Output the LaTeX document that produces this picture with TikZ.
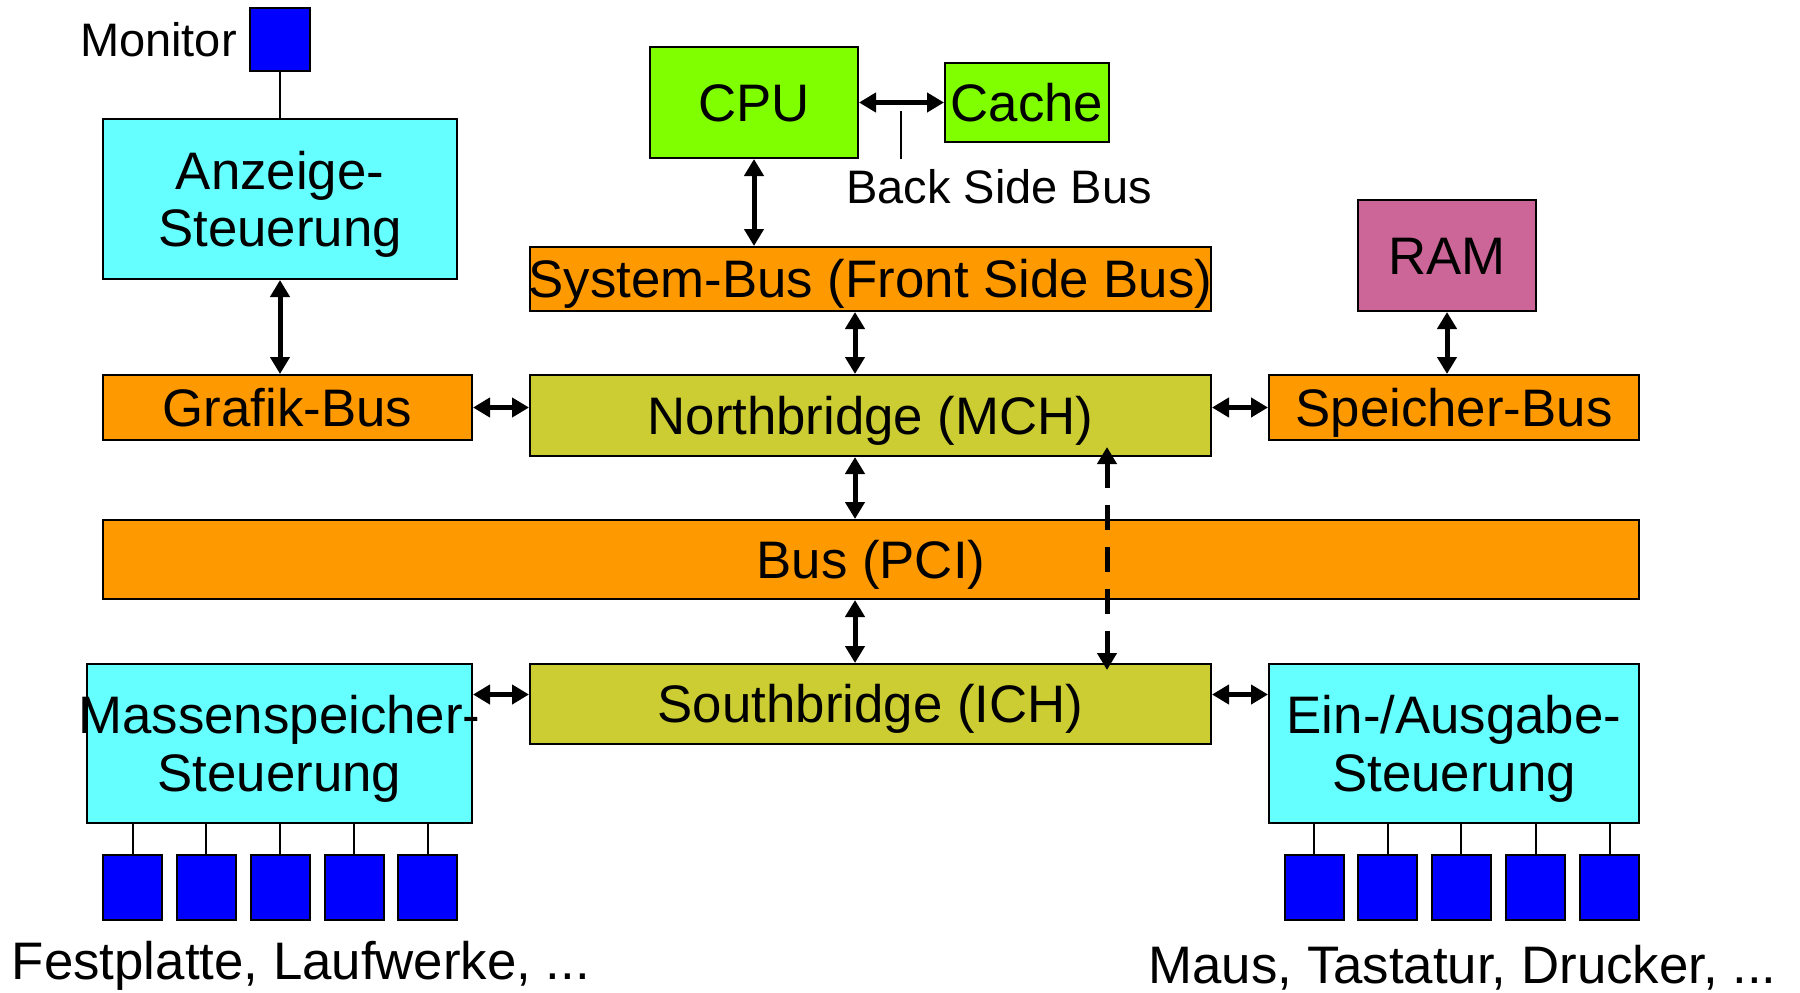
\documentclass[tikz,border=0pt]{standalone}
\usepackage{fontspec}
\setmainfont{Liberation Sans}
\usetikzlibrary{arrows.meta}
\definecolor{cyanbox}{HTML}{66FFFF}
\definecolor{orangebox}{HTML}{FF9900}
\definecolor{greenbox}{HTML}{80FF00}
\definecolor{olivebox}{HTML}{CCCC33}
\definecolor{rambox}{HTML}{CC6699}
\definecolor{devbox}{HTML}{0000FF}
\newcommand{\dgbig}{\fontsize{52.8pt}{57.4pt}\selectfont}
\newcommand{\dgsmall}{\fontsize{47pt}{52pt}\selectfont}
\begin{document}
\begin{tikzpicture}[x=1pt,y=-1pt,
 box/.style={draw=black, line width=2pt, inner sep=0pt, font=\dgbig, text height=37.8pt, text depth=0pt},
 twoline/.style={box, align=center, text height=95.2pt, text depth=0pt},
 dev/.style={draw=black, line width=2pt, fill=devbox, minimum width=59pt, minimum height=65pt, inner sep=0pt},
 biarrow/.style={line width=5pt, {Triangle[length=17pt,width=19pt]}-{Triangle[length=17pt,width=19pt]}},
 thinline/.style={line width=2pt},
 lbl/.style={inner sep=0pt, font=\dgsmall},
 biglbl/.style={inner sep=0pt, font=\dgbig}]
\fill[white] (0,0) rectangle (1800,993);
\useasboundingbox (0,0) rectangle (1800,993);

% boxes
\node[dev, minimum width=60pt, minimum height=63pt] (monitor) at (280,39.5) {};
\node[lbl, anchor=east] (monlbl) at (237,40) {Monitor};
\node[twoline, fill=cyanbox, minimum width=354pt, minimum height=160pt] (anz) at (280,199) {Anzeige-\\Steuerung};
\node[box, fill=orangebox, minimum width=369pt, minimum height=65pt] (grafik) at (287.5,407.5) {Grafik-Bus};
\node[box, fill=greenbox, minimum width=208pt, minimum height=111pt] (cpu) at (754,102.5) {CPU};
\node[box, fill=greenbox, minimum width=164pt, minimum height=79pt] (cache) at (1027,102.5) {Cache};
\node[lbl, anchor=west] (bsb) at (846,187) {Back Side Bus};
\node[box, fill=orangebox, minimum width=681pt, minimum height=64pt] (sysbus) at (870.5,279) {\makebox[0pt]{System-Bus (Front Side Bus)}};
\node[box, fill=olivebox, minimum width=681pt, minimum height=81pt] (nb) at (870.5,415.5) {Northbridge (MCH)};
\node[box, fill=rambox, minimum width=178pt, minimum height=111pt] (ram) at (1447,255.5) {RAM};
\node[box, fill=orangebox, minimum width=370pt, minimum height=65pt] (speicher) at (1454,407.5) {Speicher-Bus};
\node[box, fill=orangebox, minimum width=1536pt, minimum height=79pt] (pci) at (871,559.5) {Bus (PCI)};
\node[box, fill=olivebox, minimum width=681pt, minimum height=80pt] (sb) at (870.5,704) {Southbridge (ICH)};
\node[twoline, fill=cyanbox, minimum width=385pt, minimum height=159pt] (mass) at (279.5,743.5) {\makebox[0pt]{Massenspeicher-}\\Steuerung};
\node[twoline, fill=cyanbox, minimum width=370pt, minimum height=159pt] (eio) at (1454,743.5) {Ein-/Ausgabe-\\Steuerung};

% devices
\foreach \i/\x in {1/132.5,2/206,3/280,4/354,5/427.5}{
  \node[dev] (dl\i) at (\x,887.5) {};
  \draw[thinline] (dl\i.north) -- (dl\i.north |- mass.south);
}
\foreach \i/\x in {1/1314,2/1387.5,3/1461,4/1535.5,5/1609.5}{
  \node[dev] (dr\i) at (\x,887.5) {};
  \draw[thinline] (dr\i.north) -- (dr\i.north |- eio.south);
}
\node[biglbl, anchor=base] (fest) at (301,979) {Festplatte, Laufwerke, ...};
\node[biglbl, anchor=base] (maus) at (1462.6,983) {Maus, Tastatur, Drucker, ...};

% thin connectors
\draw[thinline] (monitor.south) -- (anz.north);
\coordinate (bsbtop) at (901,111);
\coordinate (bsbbot) at (901,159);
\draw[line width=1.5pt] (bsbtop) -- (bsbbot);

% arrows
\draw[biarrow] (anz.south) -- (anz.south |- grafik.north);
\draw[biarrow] (grafik.east) -- (grafik.east -| nb.west);
\draw[biarrow] (cpu.east) -- (cache.west);
\draw[biarrow] (cpu.south) -- (cpu.south |- sysbus.north);
\draw[biarrow] (sysbus.south -| 855,0) -- (nb.north -| 855,0);
\draw[biarrow] (nb.south -| 855,0) -- (pci.north -| 855,0);
\draw[biarrow] (pci.south -| 855,0) -- (sb.north -| 855,0);
\draw[biarrow] (ram.south) -- (ram.south |- speicher.north);
\draw[biarrow] (speicher.west -| nb.east) -- (speicher.west);
\draw[biarrow] (mass.east |- 0,694.5) -- (sb.west |- 0,694.5);
\draw[biarrow] (sb.east |- 0,694.5) -- (eio.west |- 0,694.5);
\coordinate (dtop) at (1107,447);
\coordinate (dbot) at (1107,670);
\draw[biarrow, dash pattern=on 25pt off 17pt] (dtop) -- (dbot);
\end{tikzpicture}
\end{document}
